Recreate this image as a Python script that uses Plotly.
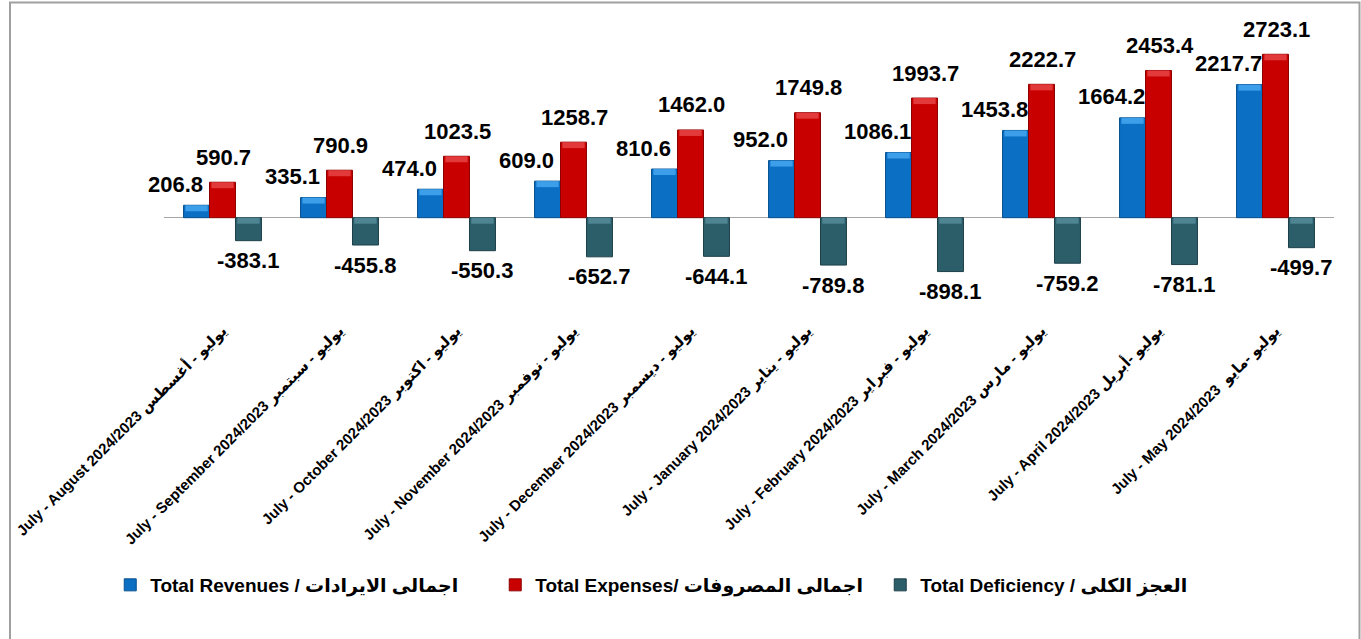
import plotly.graph_objects as go

# Period labels (English + Arabic month names)
categories = [
    "July - August 2024/2023 يوليو - أغسطس",
    "July - September 2024/2023 يوليو - سبتمبر",
    "July - October 2024/2023 يوليو - اكتوبر",
    "July - November 2024/2023 يوليو - نوفمبر",
    "July - December 2024/2023 يوليو - ديسمبر",
    "July - January 2024/2023 يوليو - يناير",
    "July - February 2024/2023 يوليو - فبراير",
    "July - March 2024/2023 يوليو - مارس",
    "July - April 2024/2023 يوليو -أبريل",
    "July - May 2024/2023  يوليو -مايو",
]
revenues = [206.8, 335.1, 474.0, 609.0, 810.6, 952.0, 1086.1, 1453.8, 1664.2, 2217.7]
expenses = [590.7, 790.9, 1023.5, 1258.7, 1462.0, 1749.8, 1993.7, 2222.7, 2453.4, 2723.1]
deficiency = [-383.1, -455.8, -550.3, -652.7, -644.1, -789.8, -898.1, -759.2, -781.1, -499.7]

series_names = [
    "Total Revenues / اجمالى الايرادات",
    "Total Expenses/ اجمالى المصروفات",
    "Total Deficiency / العجز الكلى",
]

FONT = "Liberation Sans, DejaVu Sans, sans-serif"

# figure geometry (pixels)
W_PX, H_PX = 1361, 639
M_L, M_R, M_T, M_B = 164, 27, 15, 321
PLOT_W = W_PX - M_L - M_R
PLOT_H = H_PX - M_T - M_B
Y_RANGE = [-1672, 3378]
PX_PER_UNIT = PLOT_H / (Y_RANGE[1] - Y_RANGE[0])

BAR_W = 0.222                       # bar width in category units
OFFSETS = [-1.5 * BAR_W, -0.5 * BAR_W, 0.5 * BAR_W]
BODY = ["#0B6FC4", "#C80000", "#2C5E6A"]
EDGE = ["#07508F", "#8E0000", "#1D3F48"]
HILITE = ["#3D9FEA", "#E23A3A", "#4F8593"]
BEVEL_PX = 6

fig = go.Figure()

all_values = [revenues, expenses, deficiency]
for name, vals, off, body, edge in zip(series_names, all_values, OFFSETS, BODY, EDGE):
    fig.add_trace(go.Bar(
        x=categories, y=vals, name=name,
        width=BAR_W, offset=off,
        marker=dict(color=body, line=dict(color=edge, width=1)),
        hoverinfo="skip",
    ))

# lighter bevel band along the top edge of every bar
bevel_units = BEVEL_PX / PX_PER_UNIT
for vals, off, hil in zip(all_values, OFFSETS, HILITE):
    bases, heights = [], []
    for v in vals:
        h = min(bevel_units, abs(v) * 0.5)
        top = max(v, 0)
        bases.append(top - h)
        heights.append(h)
    fig.add_trace(go.Bar(
        x=categories, y=heights, base=bases,
        width=BAR_W * 0.86, offset=off + BAR_W * 0.07,
        marker=dict(color=hil, line=dict(width=0)),
        showlegend=False, hoverinfo="skip",
    ))

# value labels
label_font = dict(family=FONT, size=22, color="#000000", weight="bold")
shifts = [(-1.0 * BAR_W, -21, 21), (0.0, 1, 25), (1.0 * BAR_W, 0, -20)]
cat_px = PLOT_W / len(categories)
for vals, (dcat, dx, dy) in zip(all_values, shifts):
    for c, v in zip(categories, vals):
        fig.add_annotation(
            x=c, y=v, text=f"{v:.1f}", showarrow=False,
            xshift=dcat * cat_px + dx, yshift=dy,
            font=label_font, xanchor="center", yanchor="middle",
        )

# outer frame
def px_x(p):
    return (p - M_L) / PLOT_W

def px_y(p):
    return (H_PX - M_B - p) / PLOT_H

fig.add_shape(
    type="rect", xref="paper", yref="paper",
    x0=px_x(10), x1=px_x(1359.5), y0=px_y(660), y1=px_y(2.5),
    line=dict(color="#A0A0A0", width=2), fillcolor="rgba(0,0,0,0)",
    layer="below",
)

fig.update_layout(
    width=W_PX, height=H_PX,
    margin=dict(l=M_L, r=M_R, t=M_T, b=M_B, autoexpand=False),
    barmode="overlay",
    plot_bgcolor="#FFFFFF", paper_bgcolor="#FFFFFF",
    font=dict(family=FONT, color="#000000"),
    xaxis=dict(
        tickangle=-45, showgrid=False, showline=False, ticks="",
        tickfont=dict(family=FONT, size=15, color="#000000", weight="bold"),
        range=[-0.5, len(categories) - 0.5], automargin=False,
    ),
    yaxis=dict(
        range=Y_RANGE, showgrid=False, showticklabels=False, ticks="",
        zeroline=True, zerolinecolor="#A6A6A6", zerolinewidth=1,
        automargin=False,
    ),
    legend=dict(
        orientation="h", xref="container", yref="container",
        x=0.081, xanchor="left", y=1 - 585 / H_PX, yanchor="middle",
        font=dict(family=FONT, size=19, color="#000000", weight="bold"),
        itemwidth=30, entrywidth=340, entrywidthmode="pixels",
        bgcolor="rgba(0,0,0,0)",
    ),
    showlegend=True,
)

fig.write_html("out.html")
